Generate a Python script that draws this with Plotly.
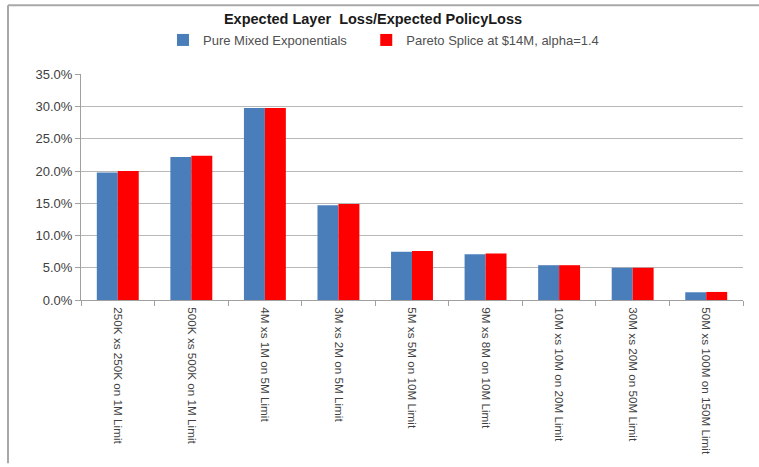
import plotly.graph_objects as go

categories = [
    "250K xs 250K on 1M Limit",
    "500K xs 500K on 1M Limit",
    "4M xs 1M on 5M Limit",
    "3M xs 2M on 5M Limit",
    "5M xs 5M on 10M Limit",
    "9M xs 8M on 10M Limit",
    "10M xs 10M on 20M Limit",
    "30M xs 20M on 50M Limit",
    "50M xs 100M on 150M Limit",
]
pure_mixed = [0.198, 0.222, 0.298, 0.147, 0.075, 0.071, 0.054, 0.050, 0.012]
pareto_splice = [0.200, 0.224, 0.298, 0.149, 0.076, 0.072, 0.054, 0.050, 0.0125]
series_names = ["Pure Mixed Exponentials", "Pareto Splice at $14M, alpha=1.4"]
title_text = "Expected Layer  Loss/Expected PolicyLoss"

fig = go.Figure()
fig.add_trace(go.Bar(x=categories, y=pure_mixed,
                     name=series_names[0] + "\u00a0" * 4,
                     marker=dict(color="#4a7ebb", line=dict(width=0))))
fig.add_trace(go.Bar(x=categories, y=pareto_splice, name=series_names[1],
                     marker=dict(color="#ff0000", line=dict(width=0))))

L, R, T, B = 81, 16, 74, 165
W, H = 759, 467
pw, ph = W - L - R, H - T - B

def px_x(x):
    return (x - L) / pw

def px_y(y):
    return (H - B - y) / ph

fig.update_layout(
    width=W, height=H,
    margin=dict(l=L, r=R, t=T, b=B),
    paper_bgcolor="white", plot_bgcolor="white",
    barmode="group", bargap=0.43, bargroupgap=0,
    font=dict(family="Arial, Liberation Sans, sans-serif", color="#404040"),
    title=dict(text="<b>" + title_text + "</b>", x=373 / W, xanchor="center",
               y=1 - 19 / H, yanchor="middle",
               font=dict(size=14.5, color="#1a1a1a")),
    legend=dict(orientation="h", xref="container", yref="container",
                x=163 / W, y=1 - 40 / H, xanchor="left", yanchor="middle",
                font=dict(size=13, color="#505050"),
                itemwidth=30, bgcolor="rgba(0,0,0,0)"),
    showlegend=True,
    xaxis=dict(tickangle=90, tickfont=dict(size=11.7, color="#404040"),
               showline=True, linecolor="#a0a0a0", linewidth=1,
               ticks="outside", tickson="boundaries", ticklen=5, tickcolor="#a0a0a0",
               ticklabelstandoff=4, showgrid=False),
    yaxis=dict(range=[0, 0.35], dtick=0.05, tickformat=".1%",
               tickfont=dict(size=13, color="#404040"),
               showgrid=True, gridcolor="#b8b8b8", gridwidth=1,
               showline=True, linecolor="#a0a0a0", linewidth=1,
               ticks="outside", ticklen=5, tickcolor="#a0a0a0", zeroline=False),
    shapes=[
        dict(type="line", xref="paper", yref="paper",
             x0=px_x(8), x1=px_x(8), y0=px_y(H), y1=px_y(4),
             line=dict(color="#a8a8a8", width=2)),
        dict(type="line", xref="paper", yref="paper",
             x0=px_x(8), x1=px_x(W), y0=px_y(4), y1=px_y(4),
             line=dict(color="#a8a8a8", width=2)),
    ],
)

fig.write_html("out.html")
